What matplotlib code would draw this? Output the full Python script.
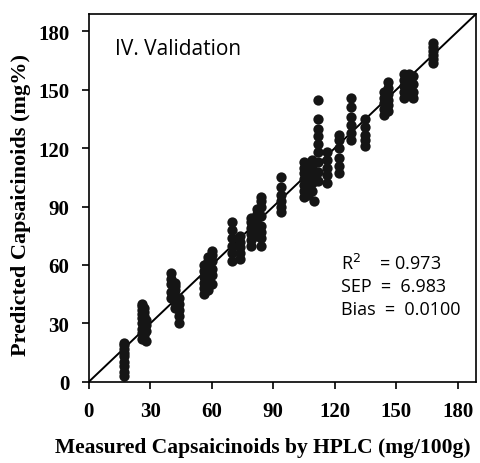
import matplotlib
matplotlib.use('Agg')
import matplotlib.pyplot as plt
import numpy as np

x_groups = [17, 26, 27, 28, 40, 42, 44, 56, 58, 60, 70, 74, 79, 82, 84, 94,
            105, 107, 109, 110, 112, 116, 122, 128, 135, 144, 146, 154, 156, 158, 168]
y_groups = [
    [3, 5, 8, 10, 13, 15, 17, 19, 20],
    [22, 25, 27, 30, 33, 35, 37, 39, 40],
    [24, 28, 31, 34, 36, 38],
    [21, 26, 29, 32],
    [43, 46, 50, 53, 56],
    [38, 41, 44, 47, 49, 51],
    [30, 34, 37, 40, 43],
    [45, 48, 51, 54, 57, 60],
    [47, 50, 53, 56, 59, 62, 64],
    [50, 55, 58, 62, 65, 67],
    [62, 66, 70, 74, 78, 82],
    [63, 66, 69, 72, 75],
    [70, 73, 76, 79, 82, 84],
    [75, 78, 81, 84, 86, 89],
    [70, 74, 77, 80, 85, 90, 93, 95],
    [87, 90, 93, 96, 100, 105],
    [95, 98, 101, 104, 107, 110, 113],
    [96, 100, 103, 106, 109, 112],
    [98, 102, 105, 108, 111, 114],
    [93, 104, 107],
    [103, 108, 113, 118, 122, 126, 130, 135, 145],
    [102, 106, 110, 114, 118],
    [107, 111, 115, 120, 124, 127],
    [124, 128, 132, 136, 141, 146],
    [121, 124, 127, 131, 135],
    [137, 140, 143, 146, 149],
    [139, 142, 145, 148, 151, 154],
    [146, 149, 152, 155, 158],
    [149, 152, 155, 158],
    [146, 149, 153, 157],
    [164, 166, 168, 170, 172, 174],
]
ticks = [0, 30, 60, 90, 120, 150, 180]
stats = ["R$^2$    = 0.973", "SEP  =  6.983", "Bias  =  0.0100"]

xs = []
ys = []
for xv, yl in zip(x_groups, y_groups):
    for yv in yl:
        xs.append(xv)
        ys.append(yv)

fig = plt.figure(figsize=(4.8, 4.64), dpi=100)
ax = fig.add_axes([0.185, 0.175, 0.807, 0.793])

lim = 189
ax.plot([0, lim], [0, lim], color='black', lw=1.4, zorder=1)
ax.scatter(xs, ys, s=55, color='#151515', zorder=2, linewidths=0)

ax.set_xlim(0, lim)
ax.set_ylim(0, lim)
ax.set_xticks(ticks)
ax.set_yticks(ticks)
for sp in ax.spines.values():
    sp.set_linewidth(1.2)

serif = ['Liberation Serif', 'DejaVu Serif']
ax.tick_params(direction='out', length=5, width=1.2, pad=9)
for lab in ax.get_xticklabels() + ax.get_yticklabels():
    lab.set_fontfamily(serif)
    lab.set_fontweight('bold')
    lab.set_fontsize(15)

ax.set_xlabel("Measured Capsaicinoids by HPLC (mg/100g)", fontfamily=serif,
              fontweight='bold', fontsize=15.5)
ax.set_ylabel("Predicted Capsaicinoids (mg%)", fontfamily=serif,
              fontweight='bold', fontsize=16)
ax.xaxis.set_label_coords(0.45, -0.15)
ax.yaxis.set_label_coords(-0.15, 0.484)

ax.text(0.067, 0.905, "IV. Validation", transform=ax.transAxes, fontsize=15,
        fontfamily='Open Sans', va='center', ha='left')
for i, s in enumerate(stats):
    ax.text(0.652, 0.323 - i * 0.0625, s, transform=ax.transAxes, fontsize=13,
            fontfamily='Open Sans', va='center', ha='left')

fig.savefig('out.png', dpi=100)
